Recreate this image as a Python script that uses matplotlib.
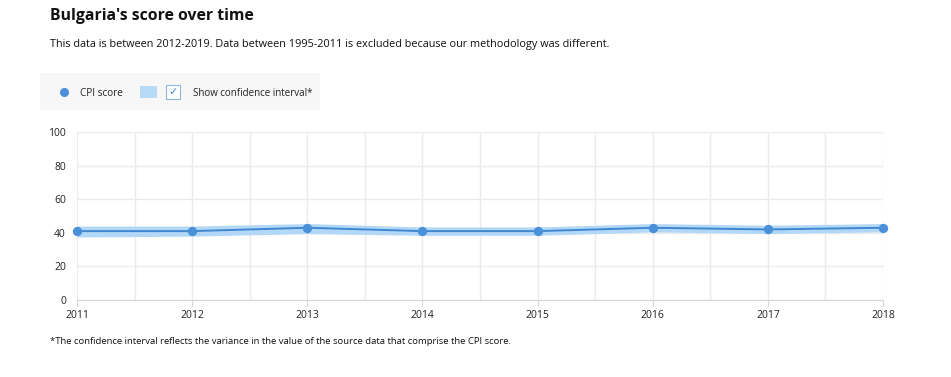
import matplotlib
matplotlib.use("Agg")
import matplotlib.pyplot as plt
from matplotlib.patches import Rectangle
from matplotlib.lines import Line2D

plt.rcParams['font.family'] = ['Open Sans', 'DejaVu Sans']

years = [2011, 2012, 2013, 2014, 2015, 2016, 2017, 2018]
scores = [41, 41, 43, 41, 41, 43, 42, 43]
ci_lower = [37.5, 38, 39.5, 38.5, 38.5, 40.5, 39.5, 40.5]
ci_upper = [44, 44, 45.5, 43.5, 43.5, 45.5, 44.5, 45.5]
yticks = [0, 20, 40, 60, 80, 100]

W, H = 951, 377
fig = plt.figure(figsize=(W / 100, H / 100), dpi=100)

def fx(px):
    return px / W

def fy(py):
    return 1 - py / H

ax = fig.add_axes([fx(77), fy(300), fx(883) - fx(77), fy(132) - fy(300)])
ax.fill_between(years, ci_lower, ci_upper, color='#b3d8f7', alpha=1.0, linewidth=0, zorder=2, clip_on=False)
ax.plot(years, scores, color='#3f88d0', linewidth=1.4, zorder=3, clip_on=False)
ax.scatter(years, scores, s=45, color='#4a90d9', zorder=4, linewidths=0, clip_on=False)

ax.set_xlim(2011, 2018)
ax.set_ylim(0, 100)
ax.set_xticks(years)
ax.set_xticklabels([str(y) for y in years])
ax.set_xticks([y + 0.5 for y in years[:-1]], minor=True)
ax.set_yticks(yticks)
ax.grid(True, which='both', color='#ebebeb', linewidth=1, zorder=0)
ax.set_axisbelow(True)
for s in ['top', 'right', 'left']:
    ax.spines[s].set_visible(False)
ax.spines['bottom'].set_color('#d6d6d6')
ax.tick_params(axis='x', which='major', length=4, color='#d6d6d6', labelsize=7.5, pad=3, labelcolor='#222222')
ax.tick_params(axis='x', which='minor', length=0)
ax.tick_params(axis='y', length=0, labelsize=7.5, pad=8, labelcolor='#222222')

# Title & texts
fig.text(fx(50), fy(16), "Bulgaria's score over time", fontsize=11.3, fontweight='bold', va='center', ha='left', color='#111111')
fig.text(fx(50), fy(45), "This data is between 2012-2019. Data between 1995-2011 is excluded because our methodology was different.",
         fontsize=7.8, va='center', ha='left', color='#111111')
fig.text(fx(50), fy(341), "*The confidence interval reflects the variance in the value of the source data that comprise the CPI score.",
         fontsize=6.8, va='center', ha='left', color='#111111')

# Legend box
fig.patches.append(Rectangle((fx(40), fy(110)), fx(320) - fx(40), fy(73) - fy(110), transform=fig.transFigure,
                             facecolor='#f7f7f7', edgecolor='none', zorder=0))
fig.add_artist(Line2D([fx(64)], [fy(92)], transform=fig.transFigure, marker='o', markersize=5.5,
                      color='#4a90d9', linestyle='none'))
fig.text(fx(80), fy(93), "CPI score", fontsize=7.2, va='center', ha='left', color='#222222')
fig.patches.append(Rectangle((fx(140), fy(98)), fx(157) - fx(140), fy(86) - fy(98), transform=fig.transFigure,
                             facecolor='#b6dbf8', edgecolor='none'))
fig.patches.append(Rectangle((fx(166), fy(99)), fx(180) - fx(166), fy(85) - fy(99), transform=fig.transFigure,
                             facecolor='white', edgecolor='#8fb8e0', linewidth=0.8))
fig.text(fx(173), fy(92.5), "\u2713", fontsize=8, va='center', ha='center', color='#3f88d0', family=['DejaVu Sans'])
fig.text(fx(193), fy(93), "Show confidence interval*", fontsize=7.0, va='center', ha='left', color='#222222')

fig.savefig("out.png", dpi=100)
